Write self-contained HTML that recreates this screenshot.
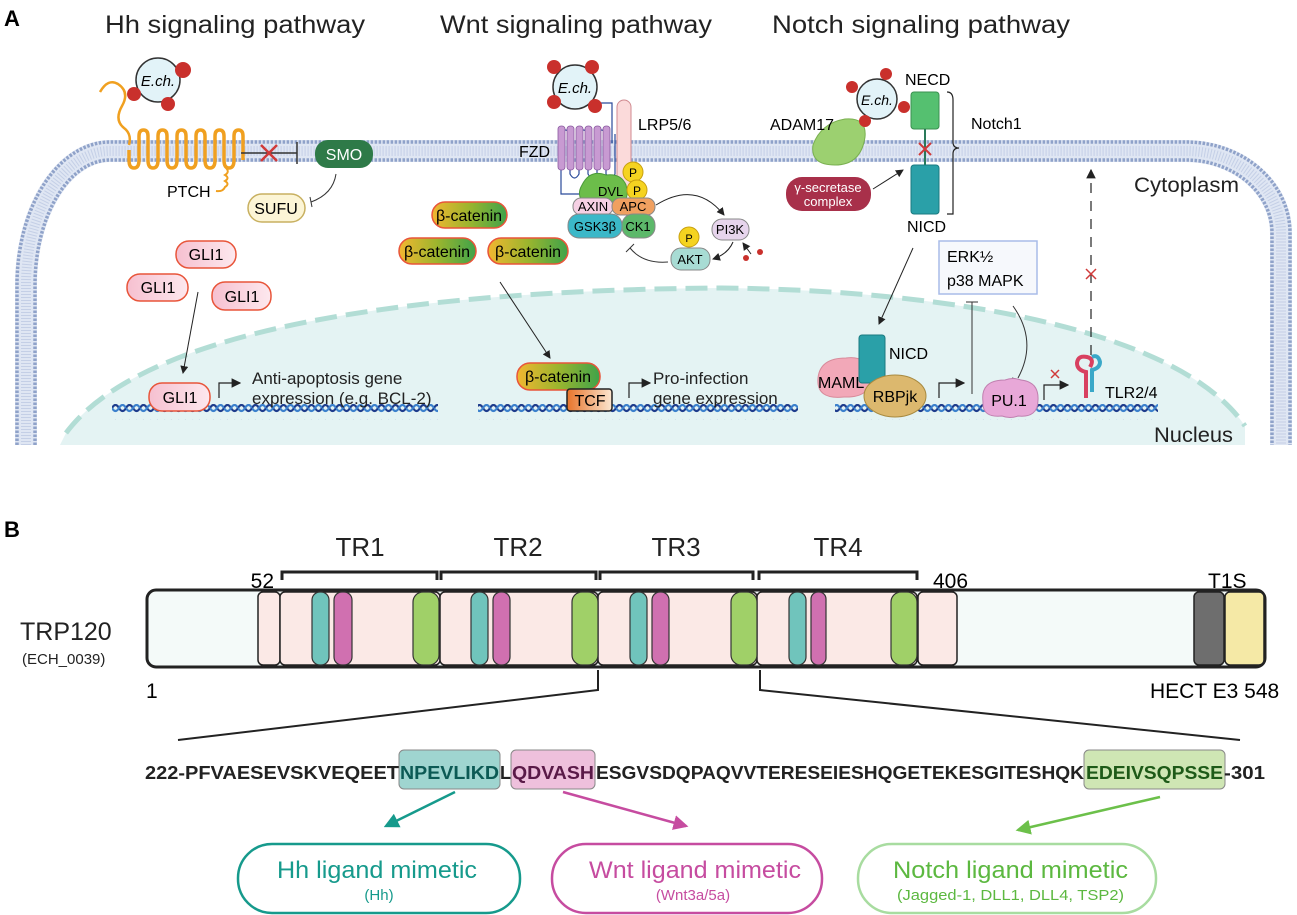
<!DOCTYPE html>
<html><head><meta charset="utf-8"><style>
html,body{margin:0;padding:0;background:#fff}
svg{display:block;font-family:"Liberation Sans",sans-serif}
</style></head><body>
<svg width="1297" height="915" viewBox="0 0 1297 915" xmlns="http://www.w3.org/2000/svg">
<defs>
<marker id="ah" markerWidth="8" markerHeight="8" refX="7" refY="4" orient="auto"><path d="M0,0 L8,4 L0,8 Z" fill="#222"/></marker>
<marker id="aT" markerWidth="6" markerHeight="6" refX="5" refY="3" orient="auto"><path d="M0,0 L6,3 L0,6 Z" fill="#169a8c"/></marker>
<marker id="aP" markerWidth="6" markerHeight="6" refX="5" refY="3" orient="auto"><path d="M0,0 L6,3 L0,6 Z" fill="#c64ca0"/></marker>
<marker id="aG" markerWidth="6" markerHeight="6" refX="5" refY="3" orient="auto"><path d="M0,0 L6,3 L0,6 Z" fill="#6cc04a"/></marker>
<linearGradient id="bc" x1="0" x2="1"><stop offset="0" stop-color="#f2b630"/><stop offset="0.5" stop-color="#9bb52e"/><stop offset="1" stop-color="#3fa34a"/></linearGradient>
<linearGradient id="tcf" x1="0" x2="1"><stop offset="0" stop-color="#e8742a"/><stop offset="1" stop-color="#fbe6d0"/></linearGradient>
<linearGradient id="gli" x1="0" x2="1"><stop offset="0" stop-color="#f6c0d0"/><stop offset="1" stop-color="#fde8ee"/></linearGradient>
<pattern id="dna1" width="14" height="16" patternUnits="userSpaceOnUse"><path d="M0 8 Q3.5 2 7 8 T14 8" fill="none" stroke="#1e3c8c" stroke-width="2.2"/><path d="M0 8 Q3.5 14 7 8 T14 8" fill="none" stroke="#3b80cc" stroke-width="2.2"/></pattern>
</defs>

<!-- Panel A -->
<text x="4" y="26" font-size="22" font-weight="bold">A</text>
<text x="105" y="33" font-size="25" textLength="260" lengthAdjust="spacingAndGlyphs" fill="#222">Hh signaling pathway</text>
<text x="440" y="33" font-size="25" textLength="272" lengthAdjust="spacingAndGlyphs" fill="#222">Wnt signaling pathway</text>
<text x="772" y="33" font-size="25" textLength="298" lengthAdjust="spacingAndGlyphs" fill="#222">Notch signaling pathway</text>

<!-- nucleus -->
<path d="M60 445 L66 433 C150 320 450 290 720 288 C950 290 1180 330 1245 426 L1245 445 Z" fill="#e4f3f3"/>
<path d="M66 433 C150 320 450 290 720 288 C950 290 1180 330 1245 426" fill="none" stroke="#b2ddd5" stroke-width="5" stroke-dasharray="22 9"/>

<!-- membrane -->
<path d="M26 445 V285 A84 134 0 0 1 110 151 H1186 A95 82 0 0 1 1281 233 V445" fill="none" stroke="#dfe6f3" stroke-width="22"/>
<path d="M26 445 V285 A84 134 0 0 1 110 151 H1186 A95 82 0 0 1 1281 233 V445" fill="none" stroke="#c4cfe6" stroke-width="10" stroke-dasharray="1 2"/>
<path d="M17 445 V285 A93 143 0 0 1 110 142 H1186 A104 91 0 0 1 1290 233 V445" fill="none" stroke="#8fa2c9" stroke-width="3.5" stroke-dasharray="2.5 1.5"/>
<path d="M35 445 V285 A75 125 0 0 1 110 160 H1186 A86 73 0 0 1 1272 233 V445" fill="none" stroke="#8fa2c9" stroke-width="3.5" stroke-dasharray="2.5 1.5"/>

<!-- DNA -->
<rect x="112" y="404" width="326" height="16" fill="url(#dna1)"/>
<rect x="478" y="404" width="320" height="16" fill="url(#dna1)"/>
<rect x="835" y="404" width="323" height="16" fill="url(#dna1)"/>

<!-- Hh -->
<path d="M100 92 q8 -14 18 -8 q12 8 4 22 q-8 14 2 22 q8 6 5 17" fill="none" stroke="#f0a020" stroke-width="2.5"/>
<path d="M129 150 v10 q0 8 5 8 q5 0 5 -8 v-24 q0 -6 4.5 -6 q4.5 0 4.5 6 v24 q0 8 5 8 q5 0 5 -8 v-24 q0 -6 4.5 -6 q4.5 0 4.5 6 v24 q0 8 5 8 q5 0 5 -8 v-24 q0 -6 4.5 -6 q4.5 0 4.5 6 v24 q0 8 5 8 q5 0 5 -8 v-24 q0 -6 4.5 -6 q4.5 0 4.5 6 v24 q0 8 5 8 q5 0 5 -8 v-24 q0 -6 4.5 -6 q4.5 0 4.5 6 v24 q0 8 5 8 q5 0 5 -8 v-24 q0 -6 4.5 -6 q4.5 0 4.5 6 v24" fill="none" stroke="#f0a020" stroke-width="3.5" stroke-linejoin="round"/>
<path d="M226 168 q4 4 -1 7 q5 3 0 6 q5 3 0 6 q-2 5 -9 4" fill="none" stroke="#f0a020" stroke-width="2"/>
<circle cx="158" cy="80" r="22" fill="#e2f3f8" stroke="#333" stroke-width="1.5"/>
<text x="158" y="86" font-size="15" font-style="italic" text-anchor="middle">E.ch.</text>
<circle cx="183" cy="70" r="8" fill="#c9302c"/><circle cx="134" cy="94" r="7" fill="#c9302c"/><circle cx="168" cy="104" r="7" fill="#c9302c"/>
<text x="167" y="197" font-size="16">PTCH</text>
<line x1="241" y1="153" x2="297" y2="153" stroke="#333" stroke-width="1.5"/><line x1="297" y1="142" x2="297" y2="164" stroke="#333" stroke-width="1.5"/>
<path d="M261 145 l16 16 M277 145 l-16 16" stroke="#d03a3a" stroke-width="2.5"/>
<rect x="315" y="140" width="58" height="28" rx="13" fill="#2e7a48"/>
<text x="344" y="160" font-size="16" fill="#fff" text-anchor="middle">SMO</text>
<path d="M336 174 q-3 20 -25 28" fill="none" stroke="#333" stroke-width="1"/><line x1="310" y1="197" x2="312" y2="207" stroke="#333"/>
<rect x="248" y="194" width="57" height="28" rx="14" fill="#fcf5d6" stroke="#c8b060" stroke-width="1.5"/>
<text x="276" y="214" font-size="16" text-anchor="middle">SUFU</text>
<g font-size="16" text-anchor="middle">
<rect x="176" y="241" width="60" height="27" rx="13" fill="url(#gli)" stroke="#e8553a" stroke-width="1.5"/><text x="206" y="260">GLI1</text>
<rect x="127" y="274" width="61" height="27" rx="13" fill="url(#gli)" stroke="#e8553a" stroke-width="1.5"/><text x="158" y="293">GLI1</text>
<rect x="212" y="282" width="59" height="28" rx="13" fill="url(#gli)" stroke="#e8553a" stroke-width="1.5"/><text x="242" y="302">GLI1</text>
<rect x="149" y="383" width="61" height="28" rx="13" fill="url(#gli)" stroke="#e8553a" stroke-width="1.5"/><text x="180" y="403">GLI1</text>
</g>
<line x1="198" y1="292" x2="183" y2="373" stroke="#222" stroke-width="1" marker-end="url(#ah)"/>
<path d="M219 398 V383 H240" fill="none" stroke="#222" stroke-width="1.2" marker-end="url(#ah)"/>
<text x="252" y="384" font-size="17" fill="#222">Anti-apoptosis gene</text>
<text x="252" y="404" font-size="17" fill="#222">expression (e.g. BCL-2)</text>

<!-- Wnt -->
<path d="M597 103 h15 v40" fill="none" stroke="#2a4a9a" stroke-width="1.2"/>
<circle cx="575" cy="87" r="22" fill="#e2f3f8" stroke="#333" stroke-width="1.5"/>
<text x="575" y="93" font-size="15" font-style="italic" text-anchor="middle">E.ch.</text>
<circle cx="554" cy="67" r="7" fill="#c9302c"/><circle cx="592" cy="67" r="7" fill="#c9302c"/><circle cx="554" cy="102" r="7" fill="#c9302c"/><circle cx="595" cy="106" r="7" fill="#c9302c"/>
<rect x="617" y="100" width="14" height="88" rx="7" fill="#fbdada" stroke="#d08a90" stroke-width="1"/>
<g stroke="#2a4a9a" stroke-width="1.2" fill="none"><path d="M561 176 v-42 q4.5 -8 9 0 v40 q4.5 8 9 0 v-40 q4.5 -8 9 0 v40 q4.5 8 9 0 v-40 q4.5 -8 9 0 v40 q4.5 8 9 0 v-40"/><path d="M561 176 v18 h22"/></g>
<g fill="#c89ad2" stroke="#8a5aa0" stroke-width="0.8"><rect x="558" y="126" width="7" height="44" rx="3"/><rect x="567" y="126" width="7" height="44" rx="3"/><rect x="576" y="126" width="7" height="44" rx="3"/><rect x="585" y="126" width="7" height="44" rx="3"/><rect x="594" y="126" width="7" height="44" rx="3"/><rect x="603" y="126" width="7" height="44" rx="3"/></g>
<text x="519" y="157" font-size="16">FZD</text>
<text x="638" y="130" font-size="16">LRP5/6</text>
<path d="M582 185 q8 -16 24 -10 q15 -2 20 10 q5 18 -10 18 h-32 q-8 -8 -2 -18z" fill="#6cbd4a" stroke="#4a9a3a"/>
<text x="598" y="196" font-size="13">DVL</text>
<circle cx="633" cy="172" r="10" fill="#f5d320" stroke="#c8a010"/><text x="633" y="177" font-size="12" text-anchor="middle">P</text>
<circle cx="637" cy="190" r="10" fill="#f5d320" stroke="#c8a010"/><text x="637" y="195" font-size="12" text-anchor="middle">P</text>
<g font-size="13" text-anchor="middle">
<rect x="573" y="198" width="40" height="17" rx="8" fill="#f6d0e4" stroke="#888"/><text x="593" y="211">AXIN</text>
<rect x="612" y="198" width="43" height="17" rx="8" fill="#f0a060" stroke="#888"/><text x="633" y="211">APC</text>
<rect x="568" y="214" width="54" height="24" rx="11" fill="#3bb8c8" stroke="#888"/><text x="595" y="231">GSK3β</text>
<rect x="622" y="214" width="33" height="24" rx="11" fill="#5cb86a" stroke="#888"/><text x="638" y="231">CK1</text>
<rect x="712" y="219" width="37" height="21" rx="10" fill="#e6d4ec" stroke="#888"/><text x="730" y="234">PI3K</text>
<rect x="671" y="248" width="39" height="22" rx="10" fill="#a8dcd4" stroke="#888"/><text x="690" y="264">AKT</text>
<circle cx="689" cy="237" r="10" fill="#f5d320" stroke="#c8a010"/><text x="689" y="242" font-size="11">P</text>
</g>
<path d="M656 205 q40 -25 68 10" fill="none" stroke="#222" marker-end="url(#ah)"/>
<path d="M733 242 q-5 12 -20 17" fill="none" stroke="#222" marker-end="url(#ah)"/>
<path d="M751 254 l-8 -11" fill="none" stroke="#222" marker-end="url(#ah)"/>
<circle cx="746" cy="258" r="3" fill="#c9302c"/><circle cx="760" cy="252" r="3" fill="#c9302c"/>
<path d="M668 262 q-25 2 -38 -14" fill="none" stroke="#333"/><line x1="626" y1="252" x2="634" y2="244" stroke="#333"/>
<g font-size="16" text-anchor="middle">
<rect x="432" y="202" width="75" height="26" rx="13" fill="url(#bc)" stroke="#e8553a" stroke-width="1.5"/><text x="469" y="221">β-catenin</text>
<rect x="399" y="238" width="77" height="26" rx="13" fill="url(#bc)" stroke="#e8553a" stroke-width="1.5"/><text x="437" y="257">β-catenin</text>
<rect x="488" y="238" width="80" height="26" rx="13" fill="url(#bc)" stroke="#e8553a" stroke-width="1.5"/><text x="528" y="257">β-catenin</text>
<rect x="517" y="363" width="83" height="27" rx="13" fill="url(#bc)" stroke="#e8553a" stroke-width="1.5"/><text x="558" y="382">β-catenin</text>
<rect x="567" y="389" width="45" height="22" rx="3" fill="url(#tcf)" stroke="#222" stroke-width="1.5"/><text x="590" y="406">TCF</text>
</g>
<line x1="500" y1="282" x2="550" y2="358" stroke="#222" stroke-width="1" marker-end="url(#ah)"/>
<path d="M629 398 V383 H650" fill="none" stroke="#222" stroke-width="1.2" marker-end="url(#ah)"/>
<text x="653" y="384" font-size="17" fill="#222">Pro-infection</text>
<text x="653" y="404" font-size="17" fill="#222">gene expression</text>

<!-- Notch -->
<path d="M813 145 q8 -22 32 -26 q22 -2 20 18 q-4 28 -30 28 q-25 0 -22 -20z" fill="#9cd070" stroke="#7ab050"/>
<text x="770" y="130" font-size="16">ADAM17</text>
<circle cx="877" cy="99" r="20" fill="#e2f3f8" stroke="#333" stroke-width="1.5"/>
<text x="877" y="105" font-size="14" font-style="italic" text-anchor="middle">E.ch.</text>
<circle cx="886" cy="74" r="6" fill="#c9302c"/><circle cx="852" cy="87" r="6" fill="#c9302c"/><circle cx="904" cy="107" r="6" fill="#c9302c"/><circle cx="865" cy="121" r="6" fill="#c9302c"/>
<text x="905" y="85" font-size="16">NECD</text>
<rect x="911" y="92" width="28" height="37" rx="3" fill="#55c070" stroke="#3a9050"/>
<line x1="925" y1="129" x2="925" y2="165" stroke="#2a7a5a" stroke-width="2"/>
<path d="M919 143 l12 12 M931 143 l-12 12" stroke="#d03a3a" stroke-width="2"/>
<rect x="911" y="165" width="28" height="49" rx="3" fill="#2aa0a8" stroke="#1a7a80"/>
<text x="907" y="232" font-size="16">NICD</text>
<path d="M947 92 q6 0 6 8 v42 q0 6 6 6 q-6 0 -6 6 v60 h-6" fill="none" stroke="#222" stroke-width="1.2"/>
<text x="971" y="129" font-size="16">Notch1</text>
<rect x="786" y="177" width="85" height="34" rx="16" fill="#a8304a"/>
<text x="828" y="192" font-size="13" fill="#fff" text-anchor="middle">γ-secretase</text>
<text x="828" y="206" font-size="13" fill="#fff" text-anchor="middle">complex</text>
<line x1="873" y1="189" x2="903" y2="170" stroke="#222" marker-end="url(#ah)"/>
<rect x="939" y="241" width="98" height="53" fill="#f6f8fc" stroke="#a8bce8" stroke-width="1.5"/>
<text x="947" y="262" font-size="16">ERK½</text>
<text x="947" y="286" font-size="16">p38 MAPK</text>
<line x1="913" y1="248" x2="879" y2="324" stroke="#222" marker-end="url(#ah)"/>
<path d="M818 378 q2 -20 28 -20 q22 -3 24 18 q2 22 -26 21 q-28 3 -26 -19z" fill="#f2a8b8" stroke="#d88a9a"/>
<rect x="859" y="335" width="26" height="48" rx="3" fill="#2aa0a8" stroke="#1a7a80"/>
<text x="889" y="359" font-size="16">NICD</text>
<text x="818" y="388" font-size="16">MAML</text>
<ellipse cx="895" cy="396" rx="31" ry="21" fill="#dcb86e" stroke="#a88a40"/>
<text x="895" y="402" font-size="16" text-anchor="middle">RBPjk</text>
<path d="M939 398 V383 H964" fill="none" stroke="#222" stroke-width="1.2" marker-end="url(#ah)"/>
<line x1="972" y1="394" x2="972" y2="302" stroke="#333"/><line x1="966" y1="302" x2="978" y2="302" stroke="#333"/>
<path d="M1013 306 q25 35 5 72" fill="none" stroke="#333"/><line x1="1012" y1="378" x2="1024" y2="381" stroke="#333"/>
<path d="M983 402 q-3 -22 22 -22 q8 -3 16 0 q18 2 17 20 q0 18 -20 16 q-8 3 -16 0 q-20 2 -19 -14z" fill="#e8a8d8" stroke="#c080b0"/>
<text x="1009" y="406" font-size="16" text-anchor="middle">PU.1</text>
<path d="M1044 400 V385 H1068" fill="none" stroke="#222" stroke-width="1.2" marker-end="url(#ah)"/>
<path d="M1051 370 l8 8 M1059 370 l-8 8" stroke="#d03a3a" stroke-width="1.5"/>
<path d="M1086 398 v-26 q-9 -2 -9 -9 q1 -8 10 -6 q8 2 3 10" fill="none" stroke="#d84060" stroke-width="4"/>
<path d="M1092 392 v-22 q8 -2 8 -8 q-2 -8 -8 -5" fill="none" stroke="#3aa8c8" stroke-width="4"/>
<text x="1105" y="398" font-size="16">TLR2/4</text>
<line x1="1091" y1="355" x2="1091" y2="170" stroke="#222" stroke-width="1.2" stroke-dasharray="10 8" marker-end="url(#ah)"/>
<path d="M1086 269 l10 10 M1096 269 l-10 10" stroke="#d03a3a" stroke-width="1.5"/>
<text x="1134" y="192" font-size="21" fill="#222" textLength="105" lengthAdjust="spacingAndGlyphs">Cytoplasm</text>
<text x="1154" y="442" font-size="21" fill="#222" textLength="79" lengthAdjust="spacingAndGlyphs">Nucleus</text>

<!-- Panel B -->
<text x="4" y="537" font-size="22" font-weight="bold">B</text>
<g fill="none" stroke="#222" stroke-width="3">
<path d="M282 580 v-8 h155 v8"/><path d="M441 580 v-8 h155 v8"/><path d="M600 580 v-8 h153 v8"/><path d="M759 580 v-8 h158 v8"/>
</g>
<g font-size="26" text-anchor="middle" fill="#222"><text x="360" y="556">TR1</text><text x="518" y="556">TR2</text><text x="676" y="556">TR3</text><text x="838" y="556">TR4</text></g>
<text x="274" y="588" font-size="21" text-anchor="end">52</text>
<text x="933" y="588" font-size="21">406</text>
<text x="1208" y="588" font-size="21">T1S</text>
<text x="146" y="698" font-size="21">1</text>
<text x="1150" y="698" font-size="21">HECT E3 548</text>
<text x="20" y="640" font-size="25" fill="#222">TRP120</text>
<text x="22" y="664" font-size="15" fill="#222">(ECH_0039)</text>

<rect x="147" y="590" width="1118" height="77" rx="9" fill="#f4faf9" stroke="#222" stroke-width="3"/>
<g stroke="#222" stroke-width="1.5">
<rect x="258" y="592" width="22" height="73" rx="5" fill="#fbe9e6"/>
<rect x="280" y="592" width="160" height="73" rx="5" fill="#fbe9e6"/>
<rect x="440" y="592" width="158" height="73" rx="5" fill="#fbe9e6"/>
<rect x="598" y="592" width="159" height="73" rx="5" fill="#fbe9e6"/>
<rect x="757" y="592" width="160" height="73" rx="5" fill="#fbe9e6"/>
<rect x="918" y="592" width="39" height="73" rx="5" fill="#fbe9e6"/>
<rect x="1194" y="592" width="30" height="73" rx="5" fill="#6e6e6e"/>
<rect x="1225" y="592" width="39" height="73" rx="5" fill="#f5e9a6"/>
</g>
<g stroke="#333" stroke-width="1.2">
<rect x="312" y="592" width="17" height="73" rx="8" fill="#70c4bc"/><rect x="334" y="592" width="18" height="73" rx="8" fill="#d070b0"/><rect x="413" y="592" width="26" height="73" rx="10" fill="#a0d068"/>
<rect x="471" y="592" width="17" height="73" rx="8" fill="#70c4bc"/><rect x="493" y="592" width="17" height="73" rx="8" fill="#d070b0"/><rect x="572" y="592" width="26" height="73" rx="10" fill="#a0d068"/>
<rect x="630" y="592" width="17" height="73" rx="8" fill="#70c4bc"/><rect x="652" y="592" width="17" height="73" rx="8" fill="#d070b0"/><rect x="731" y="592" width="26" height="73" rx="10" fill="#a0d068"/>
<rect x="789" y="592" width="17" height="73" rx="8" fill="#70c4bc"/><rect x="811" y="592" width="15" height="73" rx="7" fill="#d070b0"/><rect x="891" y="592" width="26" height="73" rx="10" fill="#a0d068"/>
</g>
<path d="M598 670 v20 L178 740" fill="none" stroke="#222" stroke-width="2"/>
<path d="M760 670 v20 L1240 740" fill="none" stroke="#222" stroke-width="2"/>

<rect x="399" y="750" width="101" height="39" rx="5" fill="#9fd5d0" stroke="#888"/>
<rect x="511" y="750" width="84" height="39" rx="5" fill="#eec0dc" stroke="#888"/>
<rect x="1084" y="750" width="141" height="39" rx="5" fill="#cfe6b4" stroke="#888"/>
<g font-size="18" font-weight="bold">
<text x="145" y="779" textLength="254" lengthAdjust="spacingAndGlyphs" fill="#222">222-PFVAESEVSKVEQEET</text>
<text x="400" y="779" textLength="99" lengthAdjust="spacingAndGlyphs" fill="#0c5a55">NPEVLIKD</text>
<text x="500" y="779" textLength="11" lengthAdjust="spacingAndGlyphs" fill="#222">L</text>
<text x="512" y="779" textLength="82" lengthAdjust="spacingAndGlyphs" fill="#5a1a48">QDVASH</text>
<text x="596" y="779" textLength="488" lengthAdjust="spacingAndGlyphs" fill="#222">ESGVSDQPAQVVTERESEIESHQGETEKESGITESHQK</text>
<text x="1086" y="779" textLength="137" lengthAdjust="spacingAndGlyphs" fill="#1e5a18">EDEIVSQPSSE</text>
<text x="1224" y="779" textLength="41" lengthAdjust="spacingAndGlyphs" fill="#222">-301</text>
</g>
<line x1="455" y1="792" x2="386" y2="826" stroke="#169a8c" stroke-width="2.5" marker-end="url(#aT)"/>
<line x1="563" y1="792" x2="686" y2="826" stroke="#c64ca0" stroke-width="2.5" marker-end="url(#aP)"/>
<line x1="1160" y1="797" x2="1018" y2="830" stroke="#6cc04a" stroke-width="2.5" marker-end="url(#aG)"/>

<rect x="238" y="844" width="282" height="69" rx="34" fill="#fff" stroke="#169a8c" stroke-width="2.5"/>
<text x="277" y="878" font-size="24" fill="#169a8c" textLength="200" lengthAdjust="spacingAndGlyphs">Hh ligand mimetic</text>
<text x="379" y="900" font-size="15" fill="#169a8c" text-anchor="middle">(Hh)</text>
<rect x="552" y="844" width="270" height="69" rx="34" fill="#fff" stroke="#c64ca0" stroke-width="2.5"/>
<text x="589" y="878" font-size="24" fill="#c64ca0" textLength="212" lengthAdjust="spacingAndGlyphs">Wnt ligand mimetic</text>
<text x="693" y="900" font-size="15" fill="#c64ca0" text-anchor="middle">(Wnt3a/5a)</text>
<rect x="858" y="844" width="298" height="69" rx="34" fill="#fff" stroke="#a8dca0" stroke-width="2.5"/>
<text x="893" y="878" font-size="24" fill="#5cb840" textLength="235" lengthAdjust="spacingAndGlyphs">Notch ligand mimetic</text>
<text x="897" y="900" font-size="15" fill="#5cb840" textLength="227" lengthAdjust="spacingAndGlyphs">(Jagged-1, DLL1, DLL4, TSP2)</text>
</svg>
</body></html>
